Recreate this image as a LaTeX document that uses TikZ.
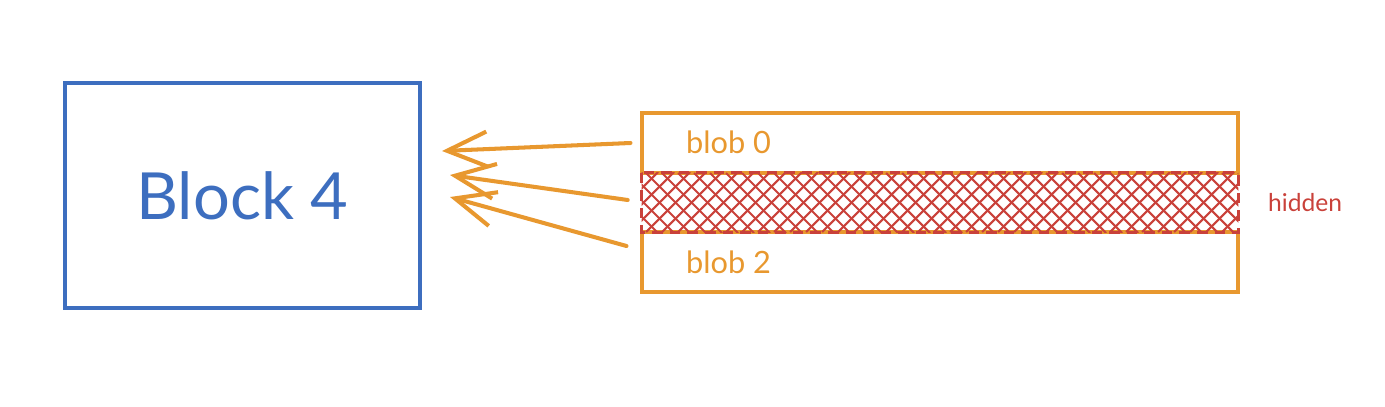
\documentclass[tikz,border=0pt]{standalone}
\usepackage{fontspec}
\setmainfont{Lato}
\usetikzlibrary{calc,positioning,arrows.meta}
\definecolor{azul}{HTML}{3D6EBF}
\definecolor{laranja}{HTML}{E8982F}
\definecolor{vermelho}{HTML}{C9413A}

\begin{document}
\begin{tikzpicture}[x=0.02cm,y=-0.02cm,
    blk/.style={draw=azul, line width=1.8pt, minimum width=7.1cm, minimum height=4.5cm, text=azul, font=\fontsize{37}{40}\selectfont},
    row/.style={draw=laranja, line width=1.8pt, minimum width=11.92cm, minimum height=1.2cm, inner sep=0pt},
    hid/.style={minimum width=11.92cm, minimum height=1.18cm, inner sep=0pt},
    hidb/.style={draw=vermelho, dash pattern=on 6pt off 4pt, line width=1.8pt},
    lbl/.style={font=\fontsize{17.5}{20}\selectfont, text=laranja, anchor=west},
    ar/.style={-{Straight Barb[length=8mm,width=7mm]}, line width=2.3pt, laranja, line cap=round}]
  \useasboundingbox (0,0) rectangle (1385,406);
  \node[blk] (b4) at (242.5,195.5) {Block 4};
  \node[row] (r0) at (940,143) {};
  \node[row] (r2) at (940,262) {};
  \node[hid] (r1) at (940,202.5) {};
  % crosshatch of the hidden row
  \begin{scope}
    \clip (r1.north west) rectangle (r1.south east);
    \foreach \i in {0,16,...,672}{
      \draw[vermelho, line width=1.2pt] (642+\i-60,232) -- ++(60,-60);
      \draw[vermelho, line width=1.2pt] (642+\i-60,173) -- ++(60,60);
    }
  \end{scope}
  \draw[hidb] (r1.north west) rectangle (r1.south east);
  \node[lbl] (l0) at (680,142) {blob 0};
  \node[lbl] (l2) at (680,262) {blob 2};
  \node[font=\fontsize{14}{16}\selectfont, text=vermelho, anchor=west] (lh) at (1262,203) {hidden};
  \coordinate (t0) at (442,151);
  \coordinate (t1) at (450,175);
  \coordinate (t2) at (450,197);
  \draw[ar] ($(r0.west)+(-10,0)$) -- (t0);
  \draw[ar] ($(r1.west)+(-14,-2.5)$) -- (t1);
  \draw[ar] ($(r2.west)+(-14,-16)$) -- (t2);
\end{tikzpicture}
\end{document}
